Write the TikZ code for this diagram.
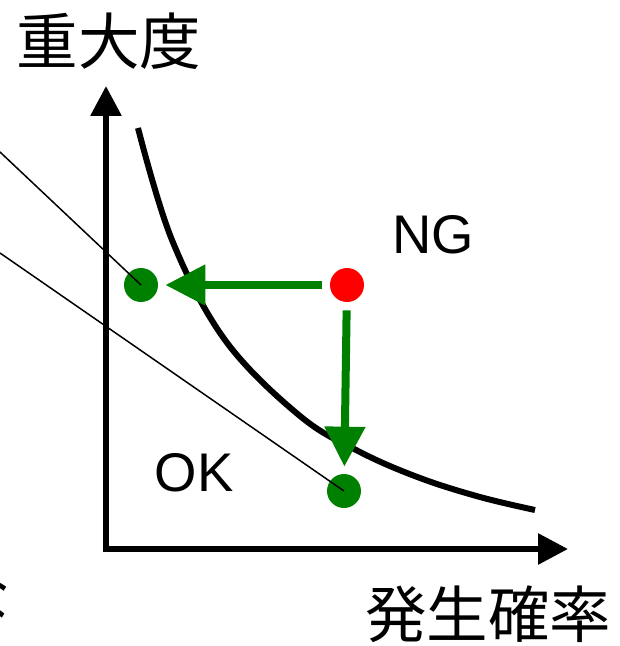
\documentclass[tikz,border=0pt]{standalone}
\usepackage{fontspec}
\setmainfont{Liberation Sans}
\newfontfamily\jpfont{Noto Sans CJK JP}
\usetikzlibrary{arrows.meta,positioning}
\definecolor{okgreen}{RGB}{0,128,0}
\definecolor{ngred}{RGB}{255,0,0}
\tikzset{
  axisline/.style={line width=0.12cm, -{Triangle[length=0.6cm, width=0.6cm]}},
  riskdot/.style={circle, inner sep=0pt, minimum size=0.68cm},
  moveline/.style={draw=okgreen, line width=0.16cm, -{Triangle[length=0.8cm, width=0.78cm]}, shorten >=0.14cm, shorten <=0.16cm},
  guide/.style={line width=0.03cm},
  jplabel/.style={font=\jpfont\fontsize{35pt}{35pt}\selectfont, inner sep=0pt},
  zonelabel/.style={font=\fontsize{31pt}{31pt}\selectfont, inner sep=0pt}
}

\begin{document}
\begin{tikzpicture}[x=0.02cm, y=-0.02cm]
\useasboundingbox (0,0) rectangle (619,646);
% axes
\coordinate (O) at (106,549);
\coordinate (ytop) at (106,86);
\coordinate (xend) at (568,549);
\draw[axisline] ([yshift=-0.06cm]O) -- (ytop);
\draw[axisline] ([xshift=-0.06cm]O) -- (xend);
\node[jplabel] (sev) at (109,41) {重大度};
\node[jplabel] (prob) at (488,614) {発生確率};
% limit curve
\draw[line width=0.12cm] plot[smooth, tension=0.6] coordinates {(138,128) (172,240) (225,340) (300,416) (360,452) (420,478) (480,497) (535,510)};
\node[zonelabel] (ngl) at (433,235) {NG};
\node[zonelabel] (okl) at (194,473) {OK};
% risks
\node[riskdot, fill=ngred] (NG) at (347,285) {};
\node[riskdot, fill=okgreen] (OKa) at (141,285) {};
\node[riskdot, fill=okgreen] (OKb) at (344,491) {};
\draw[moveline] (NG) -- (OKa);
\draw[moveline] (NG) -- (OKb);
% guides from the left
\coordinate (g1) at (0,152);
\coordinate (g2) at (0,253);
\draw[guide] (g1) -- (OKa.center);
\draw[guide] (g2) -- (OKb.center);
\begin{scope}
\clip (0,0) rectangle (619,646);
\node[jplabel, anchor=east] (cut) at (11,596) {な};
\end{scope}
\end{tikzpicture}
\end{document}
